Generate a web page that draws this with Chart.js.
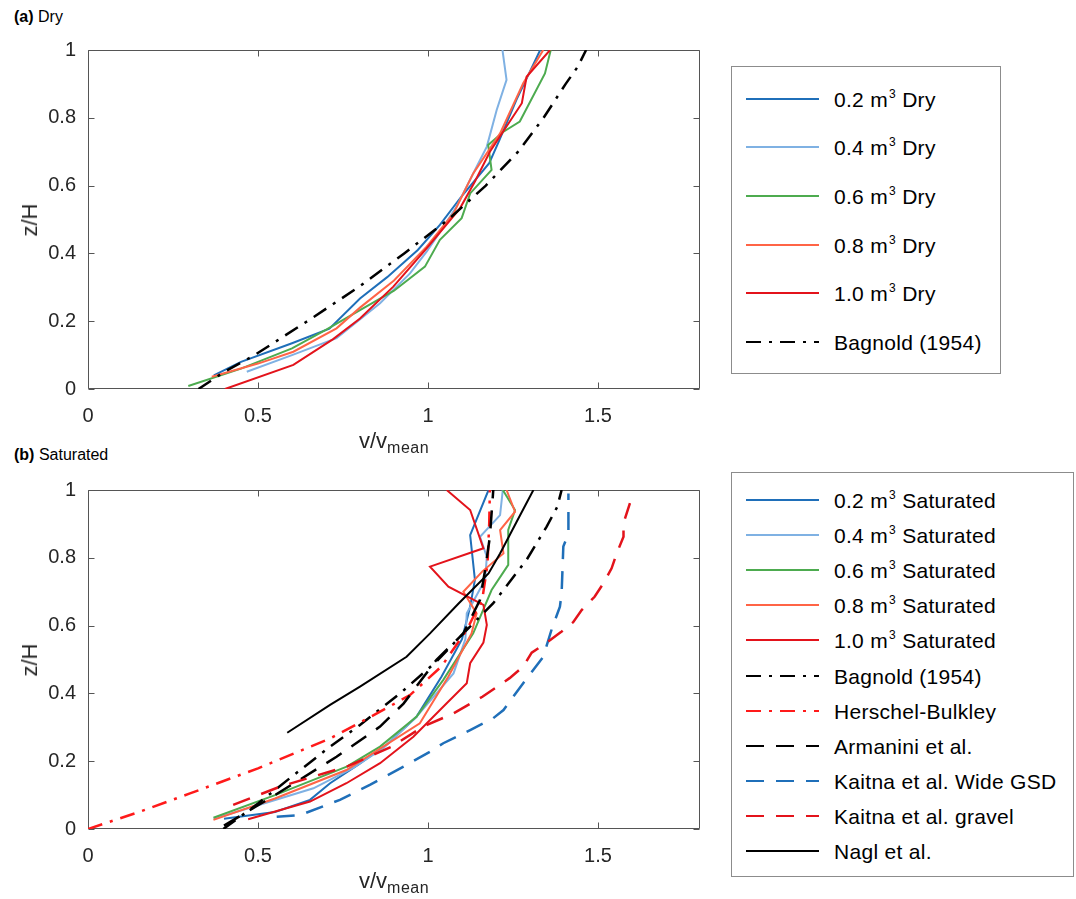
<!DOCTYPE html>
<html>
<head>
<meta charset="utf-8">
<script src="https://cdn.jsdelivr.net/npm/chart.js@4.4.1/dist/chart.umd.min.js"></script>
<style>
  html,body{margin:0;padding:0;background:#fff;}
  body{width:1076px;height:899px;overflow:hidden;position:relative;font-family:'Liberation Sans',Arial,Helvetica,sans-serif;color:#000;}
  canvas{position:absolute;}
  .ptitle{position:absolute;font-size:16px;color:#000;white-space:nowrap;}
  .ylab{position:absolute;font-size:22px;color:#262626;transform:translate(-50%,-50%) rotate(-90deg);white-space:nowrap;}
  .xlab{position:absolute;font-size:22px;color:#262626;white-space:nowrap;transform:translateX(-50%);}
  .xlab sub{font-size:16px;vertical-align:-5px;letter-spacing:0.5px;}
  .legend{position:absolute;border:1px solid #8c8c8c;background:#fff;box-sizing:border-box;}
  .lrow{position:absolute;left:0;right:0;height:24px;}
  .lrow svg{position:absolute;left:14px;top:9px;}
  .lrow span{position:absolute;left:102px;top:1px;font-size:21px;line-height:24px;letter-spacing:0.3px;white-space:nowrap;color:#000;}
  .lrow sup{font-size:12px;position:relative;top:-9px;vertical-align:baseline;margin-left:1px;}
</style>
</head>
<body>
<div class="ptitle" style="left:14px;top:8px;"><b>(a)</b> Dry</div>
<div class="ptitle" style="left:14px;top:446px;"><b>(b)</b> Saturated</div>
<canvas id="c1" width="720" height="460" style="left:0;top:0;"></canvas>
<canvas id="c2" width="720" height="460" style="left:0;top:440px;"></canvas>
<div class="ylab" style="left:30px;top:220px;">z/H</div>
<div class="ylab" style="left:30px;top:660px;">z/H</div>
<div class="xlab" style="left:394px;top:428px;">v/v<sub>mean</sub></div>
<div class="xlab" style="left:394px;top:868px;">v/v<sub>mean</sub></div>
<div id="leg1" class="legend" style="left:731px;top:66px;width:270px;height:308px;"></div>
<div id="leg2" class="legend" style="left:731px;top:472px;width:343px;height:405px;"></div>
<script>
// ---------- tick labels ----------
const xTicks = [0, 0.5, 1, 1.5];
const yTicks = [0, 0.2, 0.4, 0.6, 0.8, 1];

// ---------- (a) Dry ----------
const dryLabels = ['0.2 m³ Dry', '0.4 m³ Dry', '0.6 m³ Dry', '0.8 m³ Dry', '1.0 m³ Dry', 'Bagnold (1954)'];

const dry02_v = [0.37, 0.45, 0.60, 0.71, 0.80, 0.88, 0.97, 1.035, 1.10, 1.18, 1.21, 1.26, 1.33];
const dry02_z = [0.04, 0.08, 0.135, 0.178, 0.267, 0.33, 0.41, 0.484, 0.57, 0.666, 0.734, 0.853, 1.0];

const dry04_v = [0.467, 0.60, 0.731, 0.859, 0.947, 0.996, 1.04, 1.084, 1.13, 1.173, 1.202, 1.231, 1.219];
const dry04_z = [0.051, 0.10, 0.15, 0.253, 0.341, 0.405, 0.47, 0.538, 0.63, 0.715, 0.823, 0.912, 1.0];

const dry06_v = [0.295, 0.45, 0.60, 0.702, 0.80, 0.90, 0.991, 1.035, 1.099, 1.124, 1.187, 1.177, 1.222, 1.27, 1.344, 1.361];
const dry06_z = [0.009, 0.06, 0.12, 0.176, 0.233, 0.29, 0.361, 0.44, 0.504, 0.577, 0.646, 0.72, 0.759, 0.789, 0.931, 1.0];

const dry08_v = [0.364, 0.50, 0.604, 0.731, 0.80, 0.90, 0.996, 1.075, 1.133, 1.212, 1.28, 1.339];
const dry08_z = [0.036, 0.075, 0.11, 0.179, 0.24, 0.32, 0.42, 0.518, 0.636, 0.754, 0.902, 1.0];

const dry10_v = [0.403, 0.604, 0.721, 0.80, 0.898, 0.996, 1.094, 1.138, 1.182, 1.276, 1.29, 1.359];
const dry10_z = [0.0, 0.071, 0.147, 0.208, 0.302, 0.415, 0.533, 0.612, 0.70, 0.843, 0.921, 1.0];

const bagDry_v = [0.325, 0.40, 0.49, 0.645, 0.795, 0.93, 1.06, 1.17, 1.265, 1.34, 1.405, 1.44, 1.465];
const bagDry_z = [0.0, 0.05, 0.1, 0.2, 0.3, 0.4, 0.5, 0.6, 0.7, 0.8, 0.9, 0.95, 1.0];

// ---------- (b) Saturated ----------
const satLabels = ['0.2 m³ Saturated', '0.4 m³ Saturated', '0.6 m³ Saturated', '0.8 m³ Saturated', '1.0 m³ Saturated',
  'Bagnold (1954)', 'Herschel-Bulkley', 'Armanini et al.', 'Kaitna et al. Wide GSD', 'Kaitna et al. gravel', 'Nagl et al.'];

const sat02_v = [0.40, 0.55, 0.653, 0.712, 0.795, 0.88, 0.966, 1.04, 1.10, 1.124, 1.138, 1.124, 1.178];
const sat02_z = [0.03, 0.05, 0.086, 0.135, 0.19, 0.25, 0.331, 0.45, 0.56, 0.656, 0.735, 0.867, 1.0];

const sat04_v = [0.37, 0.50, 0.663, 0.78, 0.87, 0.966, 1.075, 1.11, 1.114, 1.168, 1.173, 1.153, 1.212, 1.22];
const sat04_z = [0.03, 0.07, 0.12, 0.18, 0.24, 0.331, 0.459, 0.56, 0.636, 0.735, 0.803, 0.862, 0.926, 1.0];

const sat06_v = [0.369, 0.55, 0.761, 0.859, 0.966, 1.045, 1.133, 1.187, 1.236, 1.236, 1.256, 1.22];
const sat06_z = [0.033, 0.10, 0.184, 0.243, 0.331, 0.44, 0.577, 0.705, 0.779, 0.882, 0.941, 1.0];

const sat08_v = [0.369, 0.55, 0.76, 0.976, 1.06, 1.128, 1.143, 1.104, 1.16, 1.222, 1.212, 1.256, 1.231];
const sat08_z = [0.027, 0.09, 0.174, 0.312, 0.45, 0.577, 0.636, 0.70, 0.76, 0.813, 0.882, 0.936, 1.0];

const sat10_v = [0.471, 0.653, 0.76, 0.859, 0.957, 1.055, 1.114, 1.124, 1.163, 1.173, 1.163, 1.06, 1.006, 1.163, 1.124, 1.055];
const sat10_z = [0.029, 0.081, 0.135, 0.194, 0.272, 0.371, 0.43, 0.489, 0.55, 0.602, 0.661, 0.715, 0.774, 0.828, 0.941, 1.0];

const bagSat_v = [0.398, 0.50, 0.60, 0.712, 0.80, 0.918, 1.025, 1.094, 1.192, 1.29, 1.349, 1.38, 1.393];
const bagSat_z = [0.0, 0.075, 0.155, 0.243, 0.307, 0.40, 0.494, 0.567, 0.666, 0.794, 0.892, 0.95, 1.0];

const hb_v = [0.0, 0.15, 0.30, 0.50, 0.712, 0.859, 0.947, 1.04, 1.114, 1.16, 1.175, 1.18, 1.182];
const hb_z = [0.0, 0.05, 0.105, 0.179, 0.267, 0.346, 0.395, 0.48, 0.587, 0.68, 0.78, 0.90, 1.0];

const arm_v = [0.40, 0.55, 0.731, 0.859, 0.928, 1.025, 1.104, 1.153, 1.168, 1.182, 1.192];
const arm_z = [0.01, 0.10, 0.213, 0.302, 0.37, 0.499, 0.577, 0.676, 0.764, 0.862, 1.0];

const kWide_v = [0.555, 0.624, 0.741, 0.829, 0.928, 1.006, 1.045, 1.124, 1.192, 1.222, 1.28, 1.339, 1.364, 1.388, 1.393, 1.398, 1.413, 1.413];
const kWide_z = [0.036, 0.041, 0.086, 0.13, 0.184, 0.228, 0.253, 0.292, 0.327, 0.351, 0.43, 0.508, 0.59, 0.656, 0.695, 0.833, 0.872, 0.99];

const kGrav_v = [0.427, 0.565, 0.766, 0.893, 0.986, 1.075, 1.16, 1.24, 1.28, 1.305, 1.349, 1.39, 1.427, 1.452, 1.49, 1.516, 1.54, 1.555, 1.575, 1.575, 1.594];
const kGrav_z = [0.071, 0.125, 0.186, 0.243, 0.302, 0.341, 0.39, 0.445, 0.479, 0.52, 0.55, 0.58, 0.61, 0.646, 0.685, 0.725, 0.769, 0.813, 0.862, 0.902, 0.961];

const nagl_v = [0.586, 0.712, 0.80, 0.937, 1.006, 1.09, 1.178, 1.212, 1.26, 1.31];
const nagl_z = [0.284, 0.366, 0.42, 0.508, 0.577, 0.665, 0.754, 0.813, 0.905, 1.0];

// ---------- styles ----------
const C_BLUE = '#1f6fb9', C_LBLUE = '#7fb1e3', C_GREEN = '#4dab4f', C_ORANGE = '#ff6446', C_RED = '#e3131b', C_BRED = '#ff1a1a', C_BLACK = '#000000';
const DASH = [18, 12], DASHDOT = [15, 8, 3, 8];

function pts(v, z) { return v.map((x, i) => ({ x: x, y: z[i] })); }
function ds(label, v, z, color, width, dash) {
  return { label, data: pts(v, z), showLine: true, borderColor: color, backgroundColor: color,
    borderWidth: width, borderDash: dash || [], pointRadius: 0, pointHoverRadius: 0, fill: false, tension: 0,
    borderCapStyle: 'butt', borderJoinStyle: 'miter' };
}

const dryDatasets = [
  ds(dryLabels[0], dry02_v, dry02_z, C_BLUE, 2),
  ds(dryLabels[1], dry04_v, dry04_z, C_LBLUE, 2),
  ds(dryLabels[2], dry06_v, dry06_z, C_GREEN, 2),
  ds(dryLabels[3], dry08_v, dry08_z, C_ORANGE, 2),
  ds(dryLabels[4], dry10_v, dry10_z, C_RED, 2),
  ds(dryLabels[5], bagDry_v, bagDry_z, C_BLACK, 2.5, DASHDOT)
];
const satDatasets = [
  ds(satLabels[0], sat02_v, sat02_z, C_BLUE, 2),
  ds(satLabels[1], sat04_v, sat04_z, C_LBLUE, 2),
  ds(satLabels[2], sat06_v, sat06_z, C_GREEN, 2),
  ds(satLabels[3], sat08_v, sat08_z, C_ORANGE, 2),
  ds(satLabels[4], sat10_v, sat10_z, C_RED, 2),
  ds(satLabels[5], bagSat_v, bagSat_z, C_BLACK, 2.5, DASHDOT),
  ds(satLabels[6], hb_v, hb_z, C_BRED, 2.5, DASHDOT),
  ds(satLabels[7], arm_v, arm_z, C_BLACK, 2.5, DASH),
  ds(satLabels[8], kWide_v, kWide_z, C_BLUE, 2.5, DASH),
  ds(satLabels[9], kGrav_v, kGrav_z, C_RED, 2.5, DASH),
  ds(satLabels[10], nagl_v, nagl_z, C_BLACK, 2)
];
[dryDatasets, satDatasets].forEach(arr => arr.forEach((d, i) => { d.order = -i; }));

// ---------- box with inward ticks ----------
const boxPlugin = {
  id: 'matlabBox',
  beforeDatasetsDraw(chart) {
    const { ctx, chartArea, scales } = chart;
    const L = Math.round(chartArea.left) + 0.5, R = Math.round(chartArea.right) - 0.5;
    const T = Math.round(chartArea.top) + 0.5, B = Math.round(chartArea.bottom) - 0.5;
    ctx.save();
    ctx.strokeStyle = '#555555';
    ctx.lineWidth = 1;
    ctx.beginPath();
    ctx.rect(L, T, R - L, B - T);
    const tl = 6;
    xTicks.forEach(v => {
      const px = Math.round(scales.x.getPixelForValue(v)) + 0.5;
      ctx.moveTo(px, B); ctx.lineTo(px, B - tl);
      ctx.moveTo(px, T); ctx.lineTo(px, T + tl);
    });
    yTicks.forEach(v => {
      const py = Math.round(scales.y.getPixelForValue(v)) + 0.5;
      ctx.moveTo(L, py); ctx.lineTo(L + tl, py);
      ctx.moveTo(R, py); ctx.lineTo(R - tl, py);
    });
    ctx.stroke();
    ctx.restore();
  }
};

Chart.defaults.font.family = "'Liberation Sans', Arial, Helvetica, sans-serif";
Chart.defaults.color = '#262626';

function makeChart(id, datasets) {
  return new Chart(document.getElementById(id), {
    type: 'scatter',
    data: { datasets },
    options: {
      responsive: false, animation: false, devicePixelRatio: 1,
      layout: { padding: { left: 0, right: 20, top: 50, bottom: 0 } },
      plugins: { legend: { display: false }, tooltip: { enabled: false } },
      events: [],
      scales: {
        x: {
          type: 'linear', min: 0, max: 1.8,
          afterBuildTicks: s => { s.ticks = xTicks.map(v => ({ value: v })); },
          afterFit: s => { s.height = 71; },
          grid: { display: false, drawTicks: false }, border: { display: false },
          ticks: { font: { size: 20 }, padding: 15, color: '#262626', maxRotation: 0, callback: v => String(v) }
        },
        y: {
          type: 'linear', min: 0, max: 1,
          afterBuildTicks: s => { s.ticks = yTicks.map(v => ({ value: v })); },
          afterFit: s => { s.width = 88; },
          grid: { display: false, drawTicks: false }, border: { display: false },
          ticks: { font: { size: 20 }, padding: 12, color: '#262626', callback: v => String(v) }
        }
      }
    },
    plugins: [boxPlugin]
  });
}
makeChart('c1', dryDatasets);
makeChart('c2', satDatasets);

// ---------- legends (HTML) ----------
function buildLegend(elId, datasets, boxTop, firstY, step) {
  const el = document.getElementById(elId);
  datasets.forEach((d, i) => {
    const row = document.createElement('div');
    row.className = 'lrow';
    row.style.top = (firstY + i * step - boxTop - 12) + 'px';
    const dash = d.borderDash.length ? d.borderDash.join(' ') : 'none';
    row.innerHTML = '<svg width="74" height="6"><line x1="0" y1="3" x2="73" y2="3" stroke="' + d.borderColor +
      '" stroke-width="' + Math.min(d.borderWidth, 2.2) + '" stroke-dasharray="' + dash + '"/></svg>';
    const span = document.createElement('span');
    const parts = d.label.split('³');
    span.appendChild(document.createTextNode(parts[0]));
    if (parts.length > 1) {
      const sup = document.createElement('sup'); sup.textContent = '3'; span.appendChild(sup);
      span.appendChild(document.createTextNode(parts[1]));
    }
    row.appendChild(span);
    el.appendChild(row);
  });
}
buildLegend('leg1', dryDatasets, 66, 97.5, 48.7);
buildLegend('leg2', satDatasets, 472, 499, 35.1);
</script>
</body>
</html>
